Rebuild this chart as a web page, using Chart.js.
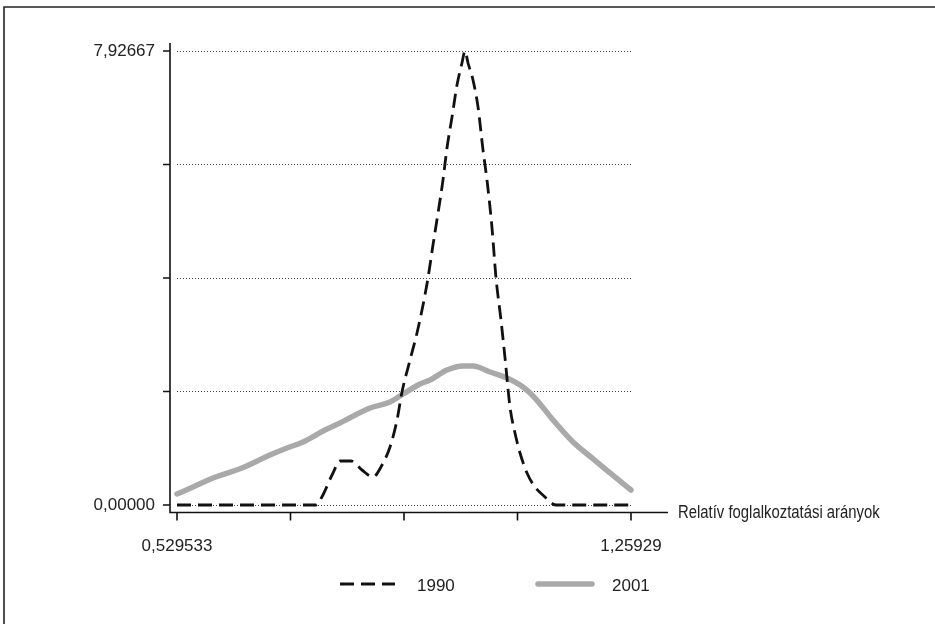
<!DOCTYPE html>
<html lang="hu">
<head>
  <meta charset="UTF-8">
  <title>Relatív foglalkoztatási arányok</title>
  <script src="https://cdn.jsdelivr.net/npm/chart.js@4.4.1/dist/chart.umd.min.js"></script>
  <style>
    html, body { margin: 0; padding: 0; background: #fff; }
    #wrap { position: relative; width: 935px; height: 624px; }
  </style>
</head>
<body>
  <div id="wrap"><canvas id="density"></canvas></div>

  <script>
    // axis ticks (values as printed in the original, decimal comma)
    const xTicks = [0.529533, 0.7119724, 0.8944118, 1.0768512, 1.25929];
    const xTickLabels = ['0,529533', '', '', '', '1,25929'];
    const yTicks = [0, 1.98167, 3.96333, 5.945, 7.92667];
    const yTickLabels = ['0,00000', '', '', '', '7,92667'];
    const axisTitle = 'Relatív foglalkoztatási arányok';
    const seriesNames = ['1990', '2001'];

    // 1990 density
    const x1990 = [0.529533, 0.7530, 0.7626, 0.7803, 0.7915, 0.8092, 0.8269, 0.8446, 0.8591, 0.8719,
                   0.8832, 0.8912, 0.9041, 0.9153, 0.9250, 0.9330, 0.9410, 0.9491, 0.9571, 0.9635,
                   0.9716, 0.9796, 0.9876, 0.9925, 0.9973, 1.0053, 1.0134, 1.0214, 1.0278, 1.0359,
                   1.0423, 1.0503, 1.0568, 1.0648, 1.0728, 1.0809, 1.0921, 1.1050, 1.1211, 1.1339,
                   1.1387, 1.25929];
    const y1990 = [0, 0, 0.145, 0.559, 0.768, 0.768, 0.611, 0.489, 0.698, 1.013,
                   1.484, 1.973, 2.532, 3.003, 3.492, 3.963, 4.539, 5.098, 5.674, 6.233,
                   6.774, 7.333, 7.717, 7.92667, 7.717, 7.420, 6.949, 6.198, 5.674, 4.836,
                   3.963, 3.230, 2.567, 1.711, 1.257, 0.908, 0.559, 0.314, 0.140, 0.017,
                   0, 0];

    // 2001 density
    const x2001 = [0.529533, 0.5553, 0.5874, 0.6340, 0.6790, 0.7063, 0.7321, 0.7674, 0.7915, 0.8398,
                   0.8719, 0.8928, 0.9201, 0.9362, 0.9635, 0.9893, 1.0053, 1.0326, 1.0600, 1.0857,
                   1.1050, 1.1339, 1.1661, 1.1966, 1.2255, 1.25929];
    const y2001 = [0.192, 0.314, 0.471, 0.646, 0.873, 0.995, 1.100, 1.309, 1.432, 1.694,
                   1.798, 1.938, 2.113, 2.182, 2.357, 2.427, 2.427, 2.322, 2.217, 2.060,
                   1.868, 1.484, 1.100, 0.821, 0.559, 0.262];

    const FONT = '"Liberation Sans", Arial, sans-serif';
    const toPoints = (xs, ys) => xs.map((x, i) => ({ x: x, y: ys[i] }));

    // stata-like frame: offset axes, outer box, axis title and legend
    const stataFrame = {
      id: 'stataFrame',
      beforeDraw(chart) {
        const ctx = chart.ctx;
        ctx.save();
        ctx.strokeStyle = '#222';
        ctx.lineWidth = 1.6;
        ctx.beginPath();
        ctx.moveTo(4, chart.height);
        ctx.lineTo(4, 7);
        ctx.lineTo(chart.width, 7);
        ctx.stroke();
        ctx.restore();
      },
      afterDraw(chart) {
        const { ctx, chartArea: a, scales } = chart;
        const axX = a.left - 7;
        const axY = a.bottom + 7.5;

        ctx.save();
        ctx.strokeStyle = '#111';
        ctx.lineWidth = 1.6;
        ctx.beginPath();
        ctx.moveTo(axX, a.top - 8);
        ctx.lineTo(axX, axY);
        ctx.lineTo(a.right + 37, axY);
        scales.y.ticks.forEach(t => {
          const py = scales.y.getPixelForValue(t.value);
          ctx.moveTo(axX - 7, py);
          ctx.lineTo(axX, py);
        });
        scales.x.ticks.forEach(t => {
          const px = scales.x.getPixelForValue(t.value);
          ctx.moveTo(px, axY);
          ctx.lineTo(px, axY + 8);
        });
        ctx.stroke();

        // axis title, a bit condensed
        ctx.fillStyle = '#222';
        ctx.font = '17.5px ' + FONT;
        ctx.textBaseline = 'middle';
        ctx.translate(a.right + 47, axY + 1);
        ctx.scale(0.85, 1);
        ctx.fillText(axisTitle, 0, 0);
        ctx.restore();

        // legend
        const ds = chart.data.datasets;
        const lx = a.left + 163;
        const ly = a.bottom + 79;
        const items = [
          { x0: lx, x1: lx + 55, tx: lx + 77 },
          { x0: lx + 198, x1: lx + 252, tx: lx + 272 }
        ];
        ctx.save();
        items.forEach((it, i) => {
          ctx.strokeStyle = ds[i].borderColor;
          ctx.lineWidth = ds[i].borderWidth;
          ctx.lineCap = ds[i].borderCapStyle;
          ctx.setLineDash(ds[i].borderDash || []);
          ctx.beginPath();
          ctx.moveTo(it.x0, ly);
          ctx.lineTo(it.x1, ly);
          ctx.stroke();
          ctx.setLineDash([]);
          ctx.fillStyle = '#222';
          ctx.font = '17px ' + FONT;
          ctx.textBaseline = 'middle';
          ctx.fillText(ds[i].label, it.tx, ly + 2);
        });
        ctx.restore();
      }
    };

    new Chart(document.getElementById('density'), {
      type: 'line',
      data: {
        datasets: [
          {
            label: seriesNames[0],
            data: toPoints(x1990, y1990),
            borderColor: '#111',
            borderWidth: 2.8,
            borderDash: [14, 7],
            borderCapStyle: 'butt',
            cubicInterpolationMode: 'monotone',
            pointRadius: 0,
            clip: false
          },
          {
            label: seriesNames[1],
            data: toPoints(x2001, y2001),
            borderColor: '#a9a9a9',
            borderWidth: 5.5,
            borderCapStyle: 'round',
            borderJoinStyle: 'round',
            cubicInterpolationMode: 'monotone',
            pointRadius: 0,
            clip: false
          }
        ]
      },
      options: {
        responsive: true,
        maintainAspectRatio: false,
        animation: false,
        layout: { padding: { left: 0, top: 51, right: 304, bottom: 0 } },
        plugins: {
          legend: { display: false },
          tooltip: { enabled: false }
        },
        scales: {
          x: {
            type: 'linear',
            min: xTicks[0],
            max: xTicks[xTicks.length - 1],
            afterBuildTicks: s => { s.ticks = xTicks.map(v => ({ value: v })); },
            afterFit: s => { s.height = 119; },
            grid: { display: false },
            border: { display: false },
            ticks: {
              padding: 23,
              autoSkip: false,
              maxRotation: 0,
              color: '#222',
              font: { family: FONT, size: 17 },
              callback: (v, i) => xTickLabels[i]
            }
          },
          y: {
            min: yTicks[0],
            max: yTicks[yTicks.length - 1],
            afterBuildTicks: s => { s.ticks = yTicks.map(v => ({ value: v })); },
            afterFit: s => { s.width = 177; },
            grid: { color: '#444', lineWidth: 1, drawTicks: false },
            border: { display: false, dash: [1, 2] },
            ticks: {
              padding: 22,
              autoSkip: false,
              color: '#222',
              font: { family: FONT, size: 17 },
              callback: (v, i) => yTickLabels[i]
            }
          }
        }
      },
      plugins: [stataFrame]
    });
  </script>
</body>
</html>
